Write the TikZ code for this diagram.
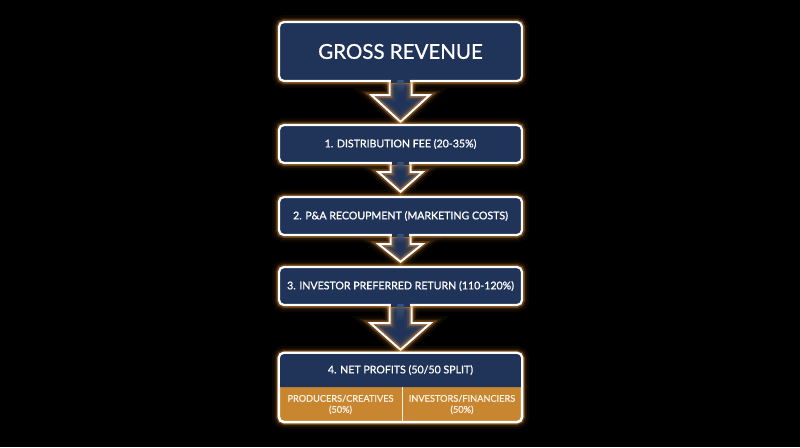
\documentclass[tikz,border=0pt]{standalone}
\usepackage{fontspec}
\setmainfont{Lato}[RawFeature={embolden=0.9}]
\usetikzlibrary{calc}
\definecolor{navy}{RGB}{31,52,88}
\definecolor{navylt}{RGB}{70,90,125}
\definecolor{glow}{RGB}{240,150,50}
\definecolor{gold}{RGB}{201,134,48}
\definecolor{cream}{RGB}{252,242,228}
\tikzset{
  glowline/.style={
    preaction={draw=glow,line width=14pt,opacity=0.05},
    preaction={draw=glow,line width=9pt,opacity=0.12},
    preaction={draw=glow,line width=5.5pt,opacity=0.35}},
  panel/.style={glowline, draw=white, line width=2.2pt, fill=navy,
    rounded corners=5pt, text=white, inner sep=0pt, align=center},
  plain/.style={inner sep=0pt, text=white, align=center},
  cell/.style={inner sep=0pt, text=cream, align=center,
    font=\fontsize{9.2}{11}\selectfont},
  arrline/.style={glowline, draw=white, line width=2pt, line join=miter},
  body/.style={font=\fontsize{10.6}{12}\selectfont},
}
% #1 from node, #2 to node, #3 shaft half width, #4 head half width, #5 head drop, #6 tip gap
\newcommand\flowarrow[6]{%
  \fill[navy] let \p1=(#1.south), \p2=(#2.north) in
    (\x1-#3pt,\y1+3pt) -- (\x1-#3pt,\y1-#5pt) -- (\x1-#4pt,\y1-#5pt) --
    (\x1,\y2+#6pt) -- (\x1+#4pt,\y1-#5pt) -- (\x1+#3pt,\y1-#5pt) --
    (\x1+#3pt,\y1+3pt) -- cycle;
  \draw[arrline] let \p1=(#1.south), \p2=(#2.north) in
    (\x1-#3pt,\y1) -- (\x1-#3pt,\y1-#5pt) -- (\x1-#4pt,\y1-#5pt) --
    (\x1,\y2+#6pt) -- (\x1+#4pt,\y1-#5pt) -- (\x1+#3pt,\y1-#5pt) --
    (\x1+#3pt,\y1);
}
\newcommand\arrowpatch[3]{%
  \fill[navy] let \p1=(#1.south) in
    (\x1-#2pt+1.1pt,\y1+2.5pt) rectangle (\x1+#2pt-1.1pt,\y1-1.5pt);
  \shade[top color=navylt, bottom color=navy, opacity=0.8] let \p1=(#1.south) in
    (\x1-3pt,\y1+1pt) rectangle (\x1+3pt,\y1-#3pt);
}
\begin{document}
\begin{tikzpicture}[x=1pt,y=-1pt]
\fill[black] (0,0) rectangle (800,447);
\useasboundingbox (0,0) rectangle (800,447);

% node geometry (placeholders first, so arrows can be drawn beneath)
\path (400.5,51.5) node[minimum width=243pt, minimum height=59pt, inner sep=0pt] (b0) {};
\path (400.5,144) node[minimum width=243pt, minimum height=38pt, inner sep=0pt] (b1) {};
\path (400.5,216) node[minimum width=243pt, minimum height=38pt, inner sep=0pt] (b2) {};
\path (400.5,286) node[minimum width=243pt, minimum height=38pt, inner sep=0pt] (b3) {};
\path (400.5,387.5) node[minimum width=243pt, minimum height=69pt, inner sep=0pt] (b4) {};

% arrows
\flowarrow{b0}{b1}{11}{29}{14}{3}
\flowarrow{b1}{b2}{10}{22}{9}{5}
\flowarrow{b2}{b3}{10}{22}{9}{5}
\flowarrow{b3}{b4}{11}{30}{18}{3}

% boxes
\node[panel, minimum width=243pt, minimum height=59pt,
      font=\fontsize{20.5}{23}\selectfont] at (b0) {GROSS REVENUE};
\node[panel, body, minimum width=243pt, minimum height=38pt] at (b1) {1. DISTRIBUTION FEE (20-35\%)};
\node[panel, body, minimum width=243pt, minimum height=38pt] at (b2) {2. P\&A RECOUPMENT (MARKETING COSTS)};
\node[panel, body, minimum width=243pt, minimum height=38pt] at (b3) {3. INVESTOR PREFERRED RETURN (110-120\%)};

% bottom panel
\node[panel, fill=gold, minimum width=243pt, minimum height=69pt] at (b4) {};
\path (400.5,370) node[minimum width=243pt, minimum height=34pt, inner sep=0pt] (b4t) {};
\fill[navy, rounded corners=5pt] (b4t.south west) -- (b4t.north west) -- (b4t.north east) -- (b4t.south east);
\node[cell, minimum width=123pt, minimum height=35pt] (b4l) at (340.5,404.5) {PRODUCERS/CREATIVES\\(50\%)};
\node[cell, minimum width=120pt, minimum height=35pt] (b4r) at (462,404.5) {INVESTORS/FINANCIERS\\(50\%)};
\draw[cream, line width=0.8pt] (b4l.north east) -- (b4l.south east);
\draw[white, line width=2.2pt, rounded corners=5pt] (b4.north west) rectangle (b4.south east);
\node[plain, body] at (b4t) {4. NET PROFITS (50/50 SPLIT)};

% open arrow shafts into boxes
\arrowpatch{b0}{11}{12}
\arrowpatch{b1}{10}{8}
\arrowpatch{b2}{10}{8}
\arrowpatch{b3}{11}{16}
\end{tikzpicture}
\end{document}
